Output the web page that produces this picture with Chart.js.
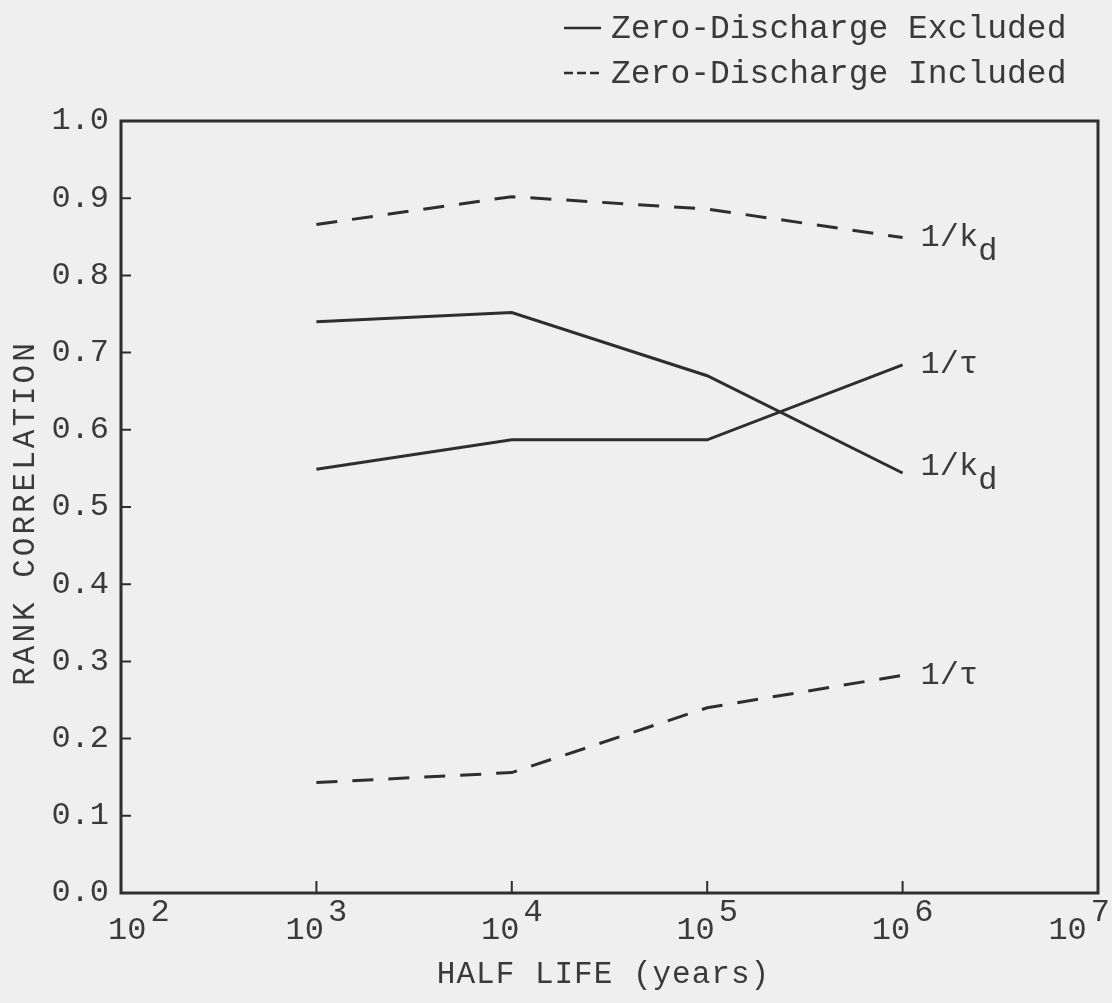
<!DOCTYPE html>
<html>
<head>
<meta charset="utf-8">
<script src="https://cdn.jsdelivr.net/npm/chart.js@4.4.1/dist/chart.umd.min.js"></script>
<style>
  html, body { margin: 0; padding: 0; background: #efefef; }
  canvas { display: block; }
</style>
</head>
<body>
<canvas id="rankChart" width="1112" height="1003"></canvas>
<script>
// half life (years) and rank correlations
const halfLife = [1e3, 1e4, 1e5, 1e6];
const kdExcluded = [0.740, 0.752, 0.670, 0.544];
const tauExcluded = [0.549, 0.587, 0.587, 0.684];
const kdIncluded = [0.866, 0.902, 0.886, 0.849];
const tauIncluded = [0.143, 0.156, 0.240, 0.282];

const xExponents = [2, 3, 4, 5, 6, 7];
const curveMain = ["1/k", "1/\u03c4", "1/k", "1/\u03c4"];
const curveSub = ["d", "", "d", ""];
const legendText = ["Zero-Discharge Excluded", "Zero-Discharge Included"];

const INK = "#2e2e2e";
const TEXT = "#3a3a3a";
const FONT = "'Liberation Mono', 'DejaVu Sans Mono', monospace";
const DASH = [21, 15];

const pts = arr => halfLife.map((x, i) => ({ x: x, y: arr[i] }));

function lineSet(arr, dashed) {
    return {
        data: pts(arr),
        borderColor: INK,
        borderWidth: 3,
        borderDash: dashed ? DASH : [],
        pointRadius: 0,
        tension: 0,
        fill: false
    };
}

// frame, inward ticks, log labels, titles, legend and curve names
const paperPlugin = {
    id: "paperPlugin",
    afterDraw(chart) {
        const ctx = chart.ctx;
        const a = chart.chartArea;
        const xs = chart.scales.x;
        const ys = chart.scales.y;
        ctx.save();

        // frame
        ctx.strokeStyle = INK;
        ctx.lineWidth = 3;
        ctx.strokeRect(a.left, a.top, a.right - a.left, a.bottom - a.top);

        // ticks pointing into the plot
        ctx.lineWidth = 2;
        ctx.beginPath();
        for (let i = 1; i < 10; i++) {
            const y = ys.getPixelForValue(i / 10);
            ctx.moveTo(a.left, y);
            ctx.lineTo(a.left + 10, y);
        }
        xExponents.slice(1, -1).forEach(e => {
            const x = xs.getPixelForValue(Math.pow(10, e));
            ctx.moveTo(x, a.bottom);
            ctx.lineTo(x, a.bottom - 12);
        });
        ctx.stroke();

        // 10^n labels
        ctx.fillStyle = TEXT;
        ctx.textBaseline = "alphabetic";
        ctx.textAlign = "left";
        ctx.font = "32px " + FONT;
        xExponents.forEach(e => {
            const x = xs.getPixelForValue(Math.pow(10, e));
            const wBase = ctx.measureText("10").width;
            const wExp = ctx.measureText(String(e)).width;
            const w = wBase + 4 + wExp;
            let x0 = x - w / 2;
            x0 = Math.max(108, Math.min(x0, 1110 - w));
            ctx.fillText("10", x0, a.bottom + 46);
            ctx.fillText(String(e), x0 + wBase + 4, a.bottom + 28);
        });

        // axis titles
        ctx.font = "31px " + FONT;
        ctx.textAlign = "center";
        ctx.textBaseline = "middle";
        ctx.letterSpacing = "1px";
        ctx.fillText("HALF LIFE (years)", (a.left + a.right) / 2 - 6, a.bottom + 82);
        ctx.save();
        ctx.translate(26, ys.getPixelForValue(0.5) + 6);
        ctx.rotate(-Math.PI / 2);
        ctx.letterSpacing = "3px";
        ctx.fillText("RANK CORRELATION", 0, 0);
        ctx.restore();
        ctx.letterSpacing = "0px";

        // legend
        ctx.font = "33px " + FONT;
        ctx.textAlign = "left";
        const legY = [28, 73];
        legendText.forEach((t, i) => {
            ctx.strokeStyle = INK;
            ctx.lineWidth = 2.5;
            ctx.setLineDash(i === 0 ? [] : [9, 4]);
            ctx.beginPath();
            ctx.moveTo(564, legY[i]);
            ctx.lineTo(601, legY[i]);
            ctx.stroke();
            ctx.setLineDash([]);
            ctx.fillText(t, 611, legY[i] + 1);
        });

        // curve names at the right-hand end of each line
        ctx.font = "32px " + FONT;
        chart.data.datasets.forEach((ds, i) => {
            const meta = chart.getDatasetMeta(i);
            const last = meta.data[meta.data.length - 1];
            const x = last.x + 18;
            const y = last.y + (i === 0 ? -7 : 0);
            ctx.fillText(curveMain[i], x, y);
            if (curveSub[i]) {
                const w = ctx.measureText(curveMain[i]).width;
                ctx.fillText(curveSub[i], x + w, y + 14);
            }
        });

        ctx.restore();
    }
};

new Chart(document.getElementById("rankChart"), {
    type: "line",
    data: {
        datasets: [
            lineSet(kdExcluded, false),
            lineSet(tauExcluded, false),
            lineSet(kdIncluded, true),
            lineSet(tauIncluded, true)
        ]
    },
    options: {
        responsive: false,
        animation: false,
        devicePixelRatio: 1,
        layout: { padding: { top: 121, right: 14, left: 0, bottom: 0 } },
        plugins: {
            legend: { display: false },
            tooltip: { enabled: false }
        },
        scales: {
            x: {
                type: "logarithmic",
                min: 100,
                max: 1e7,
                ticks: { display: false },
                grid: { display: false, drawTicks: false },
                border: { display: false },
                afterFit: s => { s.height = 110; }
            },
            y: {
                min: 0,
                max: 1,
                ticks: {
                    stepSize: 0.1,
                    padding: 12,
                    color: TEXT,
                    font: { family: FONT, size: 32 },
                    callback: v => Number(v).toFixed(1)
                },
                grid: { display: false, drawTicks: false },
                border: { display: false },
                afterFit: s => { s.width = 121; }
            }
        }
    },
    plugins: [paperPlugin]
});
</script>
</body>
</html>
